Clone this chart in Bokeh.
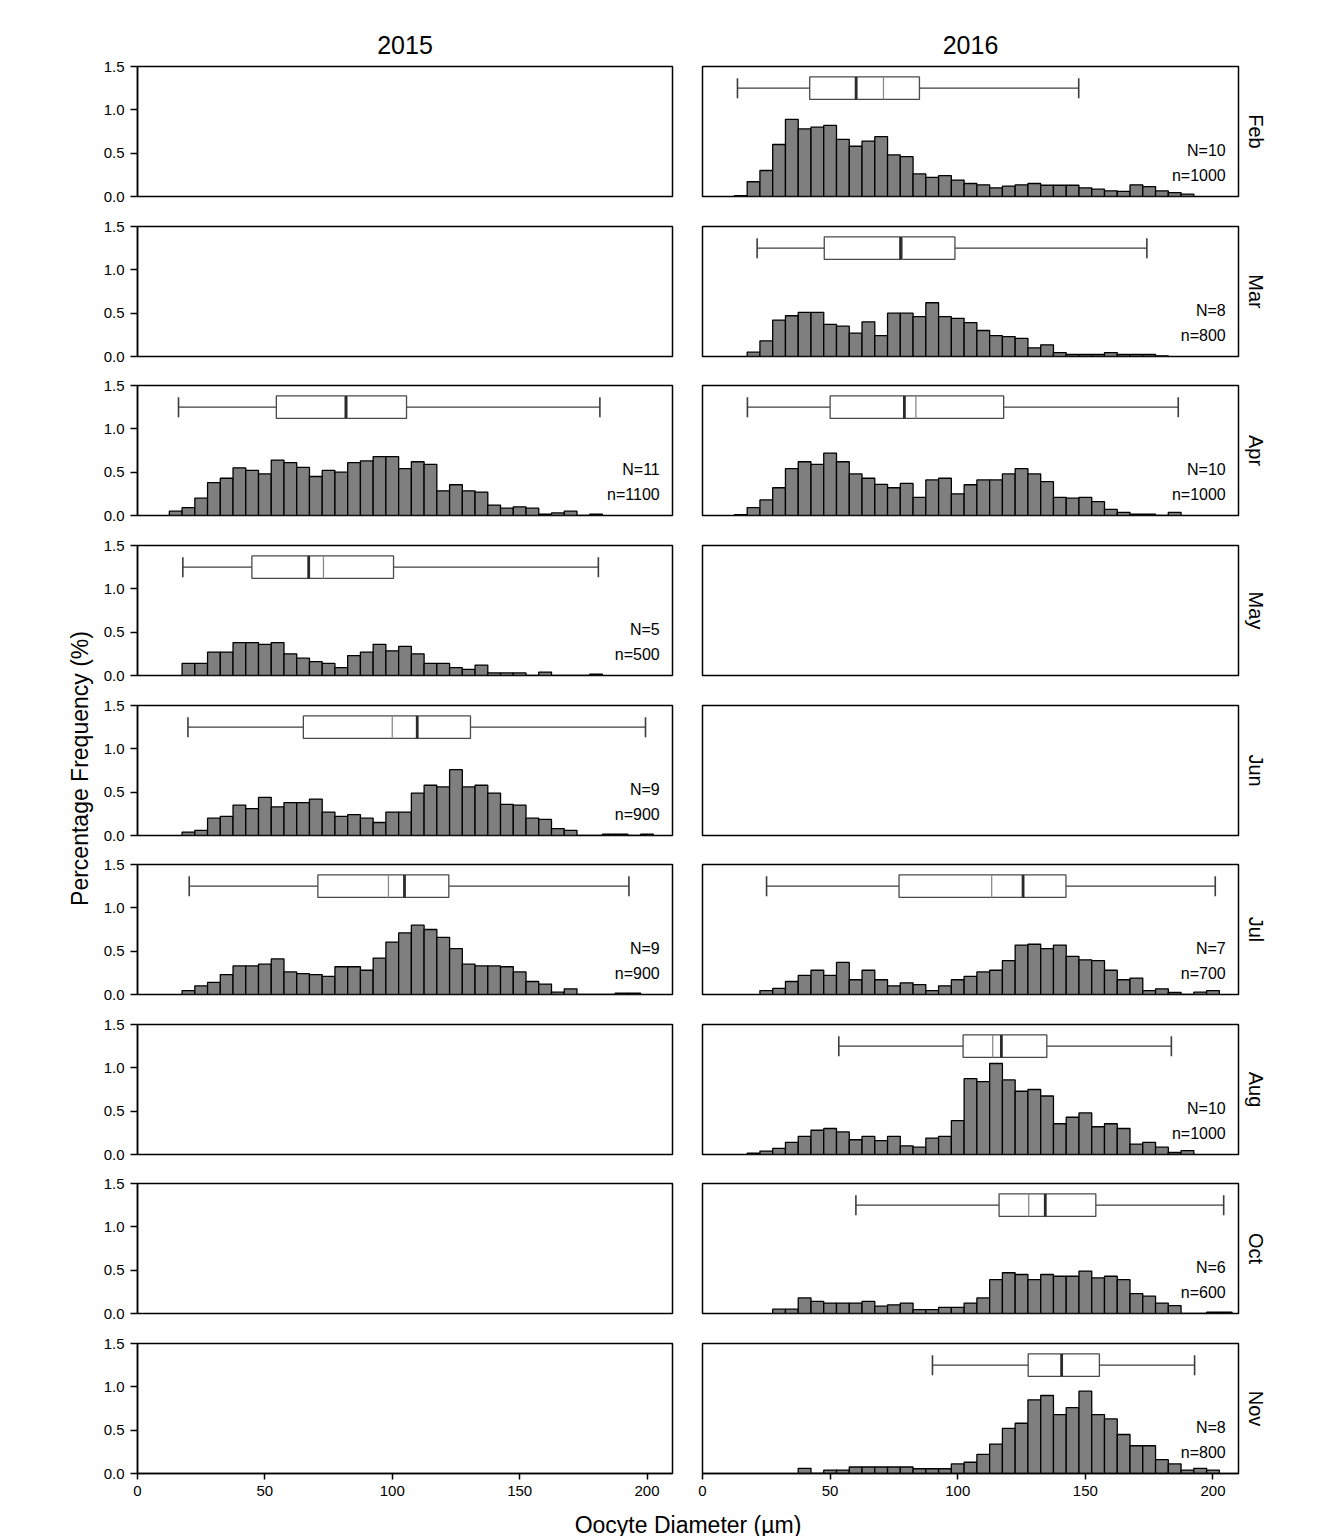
import numpy as np
from bokeh.plotting import figure
from bokeh.models import Range1d, FixedTicker, LinearAxis, NumeralTickFormatter, ColumnDataSource
from bokeh.layouts import row, column
from bokeh.embed import file_html
from bokeh.resources import INLINE
from bokeh.core.properties import value

# ---------------- data ----------------
years = ["2015", "2016"]
months = ["Feb", "Mar", "Apr", "May", "Jun", "Jul", "Aug", "Oct", "Nov"]
y_ticks = [0.0, 0.5, 1.0, 1.5]
x_ticks = [0, 50, 100, 150, 200]
bin_width = 5

# histogram heights (percentage frequency), first bin centre given separately
apr15_start = 15
apr15 = [0.05, 0.09, 0.20, 0.38, 0.43, 0.55, 0.52, 0.48, 0.64, 0.61, 0.555, 0.45, 0.52, 0.50,
         0.61, 0.63, 0.68, 0.68, 0.54, 0.62, 0.59, 0.285, 0.355, 0.285, 0.27, 0.12, 0.085, 0.10,
         0.085, 0.015, 0.03, 0.05, 0.0, 0.015]
may15_start = 20
may15 = [0.14, 0.14, 0.27, 0.27, 0.38, 0.38, 0.36, 0.38, 0.25, 0.20, 0.16, 0.14, 0.09, 0.23,
         0.27, 0.36, 0.285, 0.335, 0.25, 0.14, 0.14, 0.09, 0.07, 0.12, 0.03, 0.03, 0.03, 0.0,
         0.04, 0.0, 0.0, 0.0, 0.015]
jun15_start = 20
jun15 = [0.04, 0.06, 0.20, 0.22, 0.35, 0.31, 0.44, 0.33, 0.38, 0.38, 0.42, 0.27, 0.22, 0.24,
         0.20, 0.15, 0.27, 0.27, 0.49, 0.58, 0.56, 0.76, 0.56, 0.58, 0.49, 0.36, 0.35, 0.20,
         0.185, 0.08, 0.06, 0.0, 0.0, 0.015, 0.015, 0.0, 0.015]
jul15_start = 20
jul15 = [0.045, 0.10, 0.14, 0.23, 0.33, 0.33, 0.35, 0.41, 0.26, 0.24, 0.23, 0.21, 0.32, 0.32,
         0.28, 0.42, 0.605, 0.71, 0.80, 0.75, 0.66, 0.53, 0.35, 0.33, 0.33, 0.32, 0.26, 0.15,
         0.12, 0.027, 0.065, 0.0, 0.0, 0.0, 0.015, 0.015]
feb16_start = 15
feb16 = [0.01, 0.17, 0.30, 0.60, 0.89, 0.78, 0.80, 0.82, 0.66, 0.58, 0.64, 0.69, 0.48, 0.46,
         0.26, 0.22, 0.24, 0.19, 0.15, 0.135, 0.10, 0.12, 0.135, 0.15, 0.13, 0.13, 0.13, 0.10,
         0.085, 0.065, 0.06, 0.135, 0.115, 0.065, 0.045, 0.027]
mar16_start = 20
mar16 = [0.05, 0.18, 0.42, 0.47, 0.51, 0.51, 0.37, 0.35, 0.27, 0.40, 0.24, 0.50, 0.50, 0.46,
         0.62, 0.46, 0.44, 0.39, 0.30, 0.24, 0.23, 0.21, 0.10, 0.135, 0.045, 0.023, 0.023,
         0.023, 0.045, 0.023, 0.023, 0.023, 0.008]
apr16_start = 15
apr16 = [0.01, 0.09, 0.18, 0.32, 0.54, 0.62, 0.59, 0.72, 0.62, 0.48, 0.43, 0.36, 0.32, 0.37,
         0.21, 0.41, 0.43, 0.25, 0.355, 0.41, 0.41, 0.48, 0.54, 0.48, 0.39, 0.21, 0.20, 0.21,
         0.16, 0.07, 0.035, 0.015, 0.015, 0.0, 0.035]
jul16_start = 25
jul16 = [0.045, 0.07, 0.15, 0.22, 0.28, 0.22, 0.37, 0.17, 0.28, 0.17, 0.10, 0.135, 0.115,
         0.045, 0.10, 0.17, 0.21, 0.26, 0.28, 0.39, 0.57, 0.58, 0.53, 0.57, 0.44, 0.40, 0.39,
         0.28, 0.17, 0.19, 0.045, 0.065, 0.023, 0.0, 0.027, 0.045]
aug16_start = 20
aug16 = [0.015, 0.04, 0.07, 0.14, 0.21, 0.28, 0.30, 0.26, 0.17, 0.21, 0.16, 0.21, 0.10, 0.085,
         0.19, 0.21, 0.39, 0.875, 0.84, 1.05, 0.86, 0.73, 0.75, 0.675, 0.355, 0.43, 0.48, 0.32,
         0.355, 0.30, 0.12, 0.14, 0.085, 0.023, 0.045]
oct16_start = 30
oct16 = [0.05, 0.05, 0.18, 0.14, 0.12, 0.12, 0.12, 0.14, 0.085, 0.10, 0.12, 0.045, 0.045, 0.07,
         0.07, 0.12, 0.18, 0.39, 0.47, 0.45, 0.39, 0.45, 0.43, 0.43, 0.49, 0.41, 0.43, 0.39,
         0.23, 0.20, 0.12, 0.09, 0.0, 0.0, 0.015, 0.015]
nov16_start = 40
nov16 = [0.06, 0.0, 0.04, 0.04, 0.075, 0.075, 0.075, 0.075, 0.075, 0.055, 0.055, 0.055, 0.11,
         0.13, 0.22, 0.34, 0.52, 0.58, 0.85, 0.90, 0.68, 0.76, 0.95, 0.68, 0.63, 0.45, 0.32,
         0.32, 0.16, 0.11, 0.04, 0.06, 0.04]

# box stats: whisker low, Q1, median, mean, Q3, whisker high
apr15_box = [16.1, 54.5, 81.8, 82.2, 105.6, 181.5]
may15_box = [17.8, 44.9, 67.2, 73.0, 100.5, 180.9]
jun15_box = [19.8, 65.1, 109.8, 100.0, 130.7, 199.4]
jul15_box = [20.3, 70.8, 104.8, 98.5, 122.2, 192.9]
feb16_box = [13.7, 42.0, 60.2, 70.9, 85.0, 147.4]
mar16_box = [21.4, 47.7, 77.6, 78.3, 98.9, 174.1]
apr16_box = [17.6, 50.0, 79.1, 83.6, 118.0, 186.4]
jul16_box = [25.1, 77.0, 125.6, 113.3, 142.4, 200.9]
aug16_box = [53.4, 102.1, 117.1, 113.7, 134.9, 183.7]
oct16_box = [60.1, 116.2, 134.3, 127.8, 154.1, 204.2]
nov16_box = [90.1, 127.6, 140.7, 141.0, 155.5, 192.8]

# N females, n oocytes
apr15_N, apr15_n = 11, 1100
may15_N, may15_n = 5, 500
jun15_N, jun15_n = 9, 900
jul15_N, jul15_n = 9, 900
feb16_N, feb16_n = 10, 1000
mar16_N, mar16_n = 8, 800
apr16_N, apr16_n = 10, 1000
jul16_N, jul16_n = 7, 700
aug16_N, aug16_n = 10, 1000
oct16_N, oct16_n = 6, 600
nov16_N, nov16_n = 8, 800

panels = {
    ("2015", "Apr"): (apr15_start, apr15, apr15_box, apr15_N, apr15_n),
    ("2015", "May"): (may15_start, may15, may15_box, may15_N, may15_n),
    ("2015", "Jun"): (jun15_start, jun15, jun15_box, jun15_N, jun15_n),
    ("2015", "Jul"): (jul15_start, jul15, jul15_box, jul15_N, jul15_n),
    ("2016", "Feb"): (feb16_start, feb16, feb16_box, feb16_N, feb16_n),
    ("2016", "Mar"): (mar16_start, mar16, mar16_box, mar16_N, mar16_n),
    ("2016", "Apr"): (apr16_start, apr16, apr16_box, apr16_N, apr16_n),
    ("2016", "Jul"): (jul16_start, jul16, jul16_box, jul16_N, jul16_n),
    ("2016", "Aug"): (aug16_start, aug16, aug16_box, aug16_N, aug16_n),
    ("2016", "Oct"): (oct16_start, oct16, oct16_box, oct16_N, oct16_n),
    ("2016", "Nov"): (nov16_start, nov16, nov16_box, nov16_N, nov16_n),
}

# ---------------- layout / style ----------------
FONT = "Liberation Sans"
XMAX = 210
FRAME_W = [535, 536]
FRAME_H = 130
BORDER_L = [39, 15]
BORDER_R = [15, 90]
TOPS = [66, 16, 15, 16, 16, 15, 16, 15, 16]
BOTS = [14, 14, 14, 14, 14, 14, 14, 14, 30]
YLAB_W = 98
XLAB_H = 33
BOX_Y = 1.25
BOX_HALF = 0.13
CAP_HALF = 0.115
BAR_FILL = "#7f7f7f"
TICK_FS = "15px"


def make_panel(ci, ri):
    year, month = years[ci], months[ri]
    bottom = ri == len(months) - 1
    p = figure(width=BORDER_L[ci] + FRAME_W[ci] + BORDER_R[ci],
               height=TOPS[ri] + FRAME_H + BOTS[ri],
               min_border_left=BORDER_L[ci], min_border_right=BORDER_R[ci],
               min_border_top=TOPS[ri], min_border_bottom=BOTS[ri],
               x_range=Range1d(0, XMAX), y_range=Range1d(0, 1.5),
               x_axis_location="below" if bottom else None,
               y_axis_location="left" if ci == 0 else None,
               output_backend="svg", toolbar_location=None, tools="")
    p.xgrid.visible = False
    p.ygrid.visible = False
    p.outline_line_color = "black"
    p.outline_line_width = 1.5
    p.background_fill_color = "white"
    p.border_fill_color = "white"

    if ci == 0:
        ax = p.yaxis[0]
        ax.ticker = FixedTicker(ticks=y_ticks)
        ax.formatter = NumeralTickFormatter(format="0.0")
        ax.major_tick_out = 7
        ax.major_tick_in = 0
        ax.minor_tick_line_color = None
        ax.axis_line_width = 1.5
        ax.major_tick_line_width = 1.5
        ax.major_label_text_font = FONT
        ax.major_label_text_font_size = TICK_FS
        ax.major_label_text_color = "black"
        ax.major_label_standoff = 6
    if bottom:
        ax = p.xaxis[0]
        ax.ticker = FixedTicker(ticks=x_ticks)
        ax.major_tick_out = 6
        ax.major_tick_in = 0
        ax.minor_tick_line_color = None
        ax.axis_line_width = 1.5
        ax.major_tick_line_width = 1.5
        ax.major_label_text_font = FONT
        ax.major_label_text_font_size = TICK_FS
        ax.major_label_text_color = "black"
        ax.major_label_standoff = 6

    if ri == 0:
        p.title.text = year
        p.title.align = "center"
        p.title.text_font = FONT
        p.title.text_font_size = "25px"
        p.title.text_font_style = "normal"
        p.title.text_color = "black"
        p.title.standoff = 25

    if ci == 1:
        rax = LinearAxis(ticker=FixedTicker(ticks=[]), axis_label=month,
                         axis_line_color=None, major_tick_line_color=None,
                         minor_tick_line_color=None, major_label_text_font_size="0px",
                         axis_label_standoff=6, axis_label_text_font=FONT,
                         axis_label_text_font_size="20px",
                         axis_label_text_font_style="normal",
                         axis_label_text_color="black")
        p.add_layout(rax, "right")

    key = (year, month)
    if key in panels:
        start, heights, box, N, n = panels[key]
        heights = np.array(heights, dtype=float)
        centers = start + bin_width * np.arange(len(heights))
        src = ColumnDataSource(dict(left=centers - bin_width / 2, right=centers + bin_width / 2,
                                    top=heights, bottom=np.zeros_like(heights)))
        p.quad(left="left", right="right", top="top", bottom="bottom", source=src,
               fill_color=BAR_FILL, line_color="black", line_width=1.3)

        wlo, q1, med, mean, q3, whi = box
        # whiskers
        p.segment(x0=[wlo, q3], x1=[q1, whi], y0=[BOX_Y, BOX_Y], y1=[BOX_Y, BOX_Y],
                  line_color="#3c3c3c", line_width=1.2)
        # caps
        p.segment(x0=[wlo, whi], x1=[wlo, whi], y0=[BOX_Y - CAP_HALF] * 2,
                  y1=[BOX_Y + CAP_HALF] * 2, line_color="#3c3c3c", line_width=1.6)
        # box
        p.quad(left=[q1], right=[q3], bottom=[BOX_Y - BOX_HALF], top=[BOX_Y + BOX_HALF],
               fill_color="white", line_color="#4a4a4a", line_width=1.3)
        # mean (thin grey) and median (thick dark)
        p.segment(x0=[mean], x1=[mean], y0=[BOX_Y - BOX_HALF], y1=[BOX_Y + BOX_HALF],
                  line_color="#8c8c8c", line_width=1.3)
        p.segment(x0=[med], x1=[med], y0=[BOX_Y - BOX_HALF], y1=[BOX_Y + BOX_HALF],
                  line_color="#2a2a2a", line_width=2.8)

        p.text(x=[205, 205], y=[0.53, 0.24], text=[f"N={N}", f"n={n}"],
               text_align="right", text_baseline="middle", text_font=value(FONT),
               text_font_size="16px", text_color="black")
    return p


left_figs = [make_panel(0, r) for r in range(len(months))]
right_figs = [make_panel(1, r) for r in range(len(months))]

TOTAL_H = sum(TOPS) + sum(BOTS) + FRAME_H * len(months) + XLAB_H
COL_W = sum(BORDER_L) + sum(FRAME_W) + sum(BORDER_R)

# shared y-axis title
yl = figure(width=YLAB_W, height=TOTAL_H, x_range=Range1d(0, YLAB_W), y_range=Range1d(0, TOTAL_H),
            x_axis_type=None, y_axis_type=None, min_border=0,
            output_backend="svg", toolbar_location=None, tools="")
yl.grid.visible = False
yl.outline_line_color = None
yl.text(x=[79], y=[TOTAL_H - 768], text=["Percentage Frequency (%)"], angle=np.pi / 2,
        text_align="center", text_baseline="middle", text_font=value(FONT),
        text_font_size="23px", text_color="black")

# shared x-axis title
xl = figure(width=COL_W, height=XLAB_H, x_range=Range1d(YLAB_W, YLAB_W + COL_W),
            y_range=Range1d(0, XLAB_H), x_axis_type=None, y_axis_type=None, min_border=0,
            output_backend="svg", toolbar_location=None, tools="")
xl.grid.visible = False
xl.outline_line_color = None
xl.text(x=[687.5], y=[12], text=["Oocyte Diameter (µm)"], text_align="center",
        text_baseline="middle", text_font=value(FONT), text_font_size="23px",
        text_color="black")

grid = column(*[row(left_figs[i], right_figs[i]) for i in range(len(months))], xl)
page = row(yl, grid)

open("out.html", "w").write(file_html(page, INLINE))
